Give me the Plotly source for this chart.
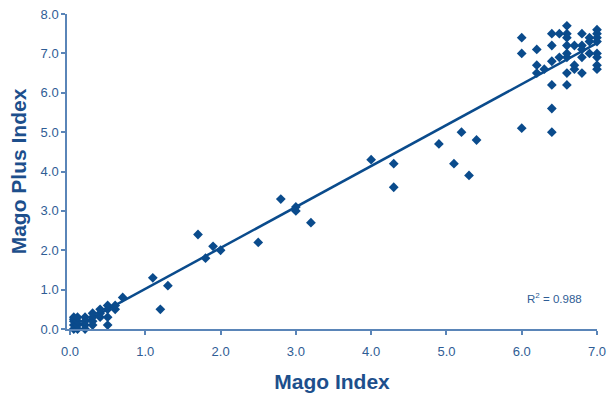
import plotly.graph_objects as go

# ---- data ----
mago_index = [
    0.05, 0.05, 0.05, 0.05, 0.05, 0.1, 0.1, 0.1, 0.1, 0.2, 0.2, 0.2, 0.2,
    0.3, 0.3, 0.3, 0.3, 0.4, 0.4, 0.4, 0.5, 0.5, 0.5, 0.5, 0.6, 0.6, 0.7,
    1.1, 1.2, 1.3, 1.7, 1.8, 1.9, 2.0, 2.5, 2.8, 3.0, 3.0, 3.2,
    4.0, 4.3, 4.3, 4.9, 5.1, 5.2, 5.3, 5.4,
    6.0, 6.0, 6.0, 6.2, 6.2, 6.2, 6.3, 6.4, 6.4, 6.4, 6.4, 6.4, 6.4,
    6.5, 6.5, 6.6, 6.6, 6.6, 6.6, 6.6, 6.6, 6.6, 6.6, 6.7, 6.7, 6.7,
    6.8, 6.8, 6.8, 6.8, 6.8, 6.9, 6.9, 6.9,
    7.0, 7.0, 7.0, 7.0, 7.0, 7.0, 7.0, 7.0,
]
mago_plus_index = [
    0.0, 0.1, 0.2, 0.25, 0.3, 0.0, 0.1, 0.2, 0.3, 0.0, 0.1, 0.2, 0.3,
    0.1, 0.2, 0.3, 0.4, 0.3, 0.4, 0.5, 0.1, 0.3, 0.5, 0.6, 0.5, 0.6, 0.8,
    1.3, 0.5, 1.1, 2.4, 1.8, 2.1, 2.0, 2.2, 3.3, 3.1, 3.0, 2.7,
    4.3, 4.2, 3.6, 4.7, 4.2, 5.0, 3.9, 4.8,
    7.4, 7.0, 5.1, 7.1, 6.7, 6.5, 6.6, 7.5, 7.2, 6.8, 6.2, 5.6, 5.0,
    7.5, 6.9, 7.7, 7.5, 7.4, 7.2, 7.0, 6.9, 6.5, 6.2, 7.2, 6.7, 6.6,
    7.5, 7.2, 7.1, 6.9, 6.5, 7.4, 7.3, 7.0,
    7.6, 7.5, 7.4, 7.3, 7.0, 6.9, 6.7, 6.6,
]
trend_x = [0.0, 7.0]
trend_slope = 1.04
trend_intercept = -0.02
trend_y = [trend_slope * v + trend_intercept for v in trend_x]
r_squared = 0.988

x_ticks = [0, 1, 2, 3, 4, 5, 6, 7]
y_ticks = [0, 1, 2, 3, 4, 5, 6, 7, 8]

MARK = "#0a4b8c"
AXIS = "#5a85b8"
TEXT = "#2f5d95"
TITLE = "#1d4f8c"
FONT = "Arial, Liberation Sans, sans-serif"

x_range = [-0.04, 7.0]
y_range = [0, 8]

fig = go.Figure()
fig.add_trace(go.Scatter(
    x=trend_x, y=trend_y, mode="lines",
    line=dict(color=MARK, width=2.5), hoverinfo="skip", showlegend=False,
    cliponaxis=False,
))
fig.add_trace(go.Scatter(
    x=mago_index, y=mago_plus_index, mode="markers",
    marker=dict(symbol="diamond", size=7.5, color=MARK, line=dict(width=0)),
    showlegend=False, cliponaxis=False,
))

fig.add_annotation(
    x=6.43, y=0.79, xref="x", yref="y",
    text=f"R<sup>2</sup> = {r_squared}", showarrow=False,
    font=dict(family=FONT, size=11.5, color=TEXT),
)

fig.update_layout(
    width=610, height=397,
    margin=dict(l=67, r=13, t=14, b=68),
    paper_bgcolor="white", plot_bgcolor="white",
    font=dict(family=FONT, color=TEXT, size=13),
    xaxis=dict(
        range=x_range, tickvals=x_ticks, tickformat=".1f",
        showgrid=False, zeroline=False, automargin=False,
        showline=True, linecolor=AXIS, linewidth=1.5,
        ticks="outside", ticklen=4, tickcolor=AXIS, tickwidth=1.5,
        ticklabelstandoff=6,
        tickfont=dict(family=FONT, size=13, color=TEXT),
        title=dict(text="<b>Mago Index</b>", standoff=16,
                   font=dict(family=FONT, size=21, color=TITLE)),
    ),
    yaxis=dict(
        range=y_range, tickvals=y_ticks, tickformat=".1f",
        showgrid=False, zeroline=False, automargin=False,
        showline=True, linecolor=AXIS, linewidth=1.5,
        ticks="outside", ticklen=4, tickcolor=AXIS, tickwidth=1.5,
        tickfont=dict(family=FONT, size=13, color=TEXT),
        title=dict(text="<b>Mago Plus Index</b>", standoff=8,
                   font=dict(family=FONT, size=21, color=TITLE)),
    ),
    xaxis2=dict(
        overlaying="x", anchor="y", side="bottom", range=x_range,
        tickvals=x_ticks, showticklabels=False, showgrid=False,
        zeroline=False, showline=False, automargin=False,
        ticks="inside", ticklen=3, tickcolor=AXIS, tickwidth=1.5,
    ),
    yaxis2=dict(
        overlaying="y", anchor="x", side="left", range=y_range,
        tickvals=y_ticks, showticklabels=False, showgrid=False,
        zeroline=False, showline=False, automargin=False,
        ticks="inside", ticklen=3, tickcolor=AXIS, tickwidth=1.5,
    ),
)

fig.write_html(
    "out.html",
    config={"displayModeBar": False},
    post_script="document.body.style.margin='0';document.body.style.padding='0';",
)
